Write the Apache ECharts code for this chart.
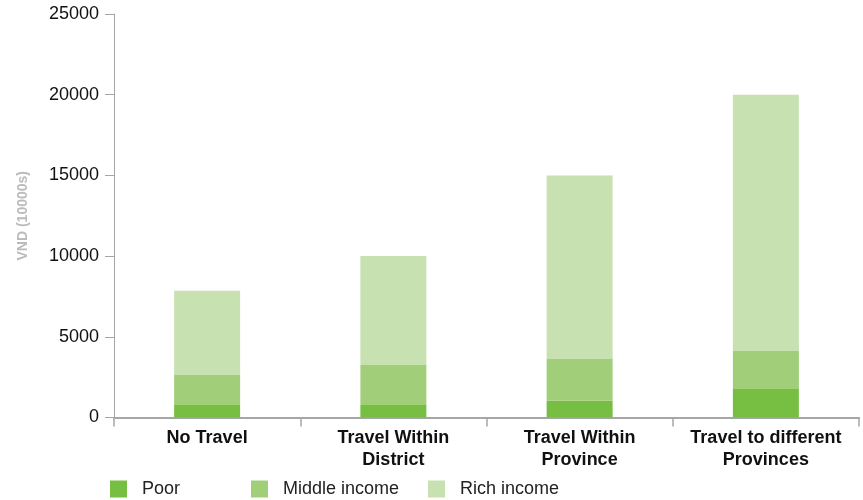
<!DOCTYPE html>
<html>
<head>
<meta charset="utf-8">
<script src="https://cdn.jsdelivr.net/npm/echarts@6/dist/echarts.min.js"></script>
<style>
  html, body { margin: 0; padding: 0; background: #fff; }
  #chart { width: 863px; height: 500px; }
</style>
</head>
<body>
<div id="chart"></div>
<script>
// Household spending by travel distance, stacked by income group
const categories = ['No Travel', 'Travel Within\nDistrict', 'Travel Within\nProvince', 'Travel to different\nProvinces'];
const poor = [775, 775, 1040, 1770];
const middleIncome = [1855, 2475, 2580, 2350];
const richIncome = [5220, 6750, 11380, 15880];
const yTicks = { min: 0, max: 25000, interval: 5000 };

const colors = { poor: '#77bf43', middle: '#a1ce79', rich: '#c7e1b0' };
const font = 'Liberation Sans, Arial, sans-serif';
const axisGray = '#a6a6a6';

const chart = echarts.init(document.getElementById('chart'), null, { renderer: 'canvas' });

function legendFor(name, left) {
  return {
    data: [name],
    left: left,
    top: 480,
    padding: 0,
    itemWidth: 17,
    itemHeight: 17,
    icon: 'rect',
    selectedMode: false,
    textStyle: { fontFamily: font, fontSize: 18, color: '#222', padding: [0, 0, 0, 10] }
  };
}

chart.setOption({
  animation: false,
  backgroundColor: '#fff',
  grid: { left: 114, right: 4, top: 14, bottom: 82.5, containLabel: false },
  legend: [
    legendFor('Poor', 110),
    legendFor('Middle income', 251),
    legendFor('Rich income', 428)
  ],
  xAxis: {
    type: 'category',
    data: categories,
    boundaryGap: true,
    axisLine: { lineStyle: { color: axisGray, width: 2 } },
    axisTick: { show: true, alignWithLabel: false, length: 9, lineStyle: { color: axisGray, width: 1.5 } },
    axisLabel: {
      interval: 0,
      margin: 10,
      fontFamily: font,
      fontSize: 18,
      fontWeight: 'bold',
      color: '#111',
      lineHeight: 22
    },
    splitLine: { show: false }
  },
  yAxis: {
    type: 'value',
    min: yTicks.min,
    max: yTicks.max,
    interval: yTicks.interval,
    name: 'VND (10000s)',
    nameLocation: 'middle',
    nameGap: 84,
    nameTextStyle: { fontFamily: font, fontSize: 14, fontWeight: 'bold', color: '#bbbbbb' },
    axisLine: { show: true, lineStyle: { color: axisGray, width: 1 } },
    axisTick: { show: true, length: 9, lineStyle: { color: axisGray, width: 1 } },
    axisLabel: {
      margin: 15,
      fontFamily: font,
      fontSize: 18,
      color: '#111',
      formatter: (v) => String(v)
    },
    splitLine: { show: false }
  },
  series: [
    { name: 'Poor', type: 'bar', stack: 'total', data: poor, barWidth: 66, itemStyle: { color: colors.poor } },
    { name: 'Middle income', type: 'bar', stack: 'total', data: middleIncome, barWidth: 66, itemStyle: { color: colors.middle } },
    { name: 'Rich income', type: 'bar', stack: 'total', data: richIncome, barWidth: 66, itemStyle: { color: colors.rich } }
  ]
});
</script>
</body>
</html>
